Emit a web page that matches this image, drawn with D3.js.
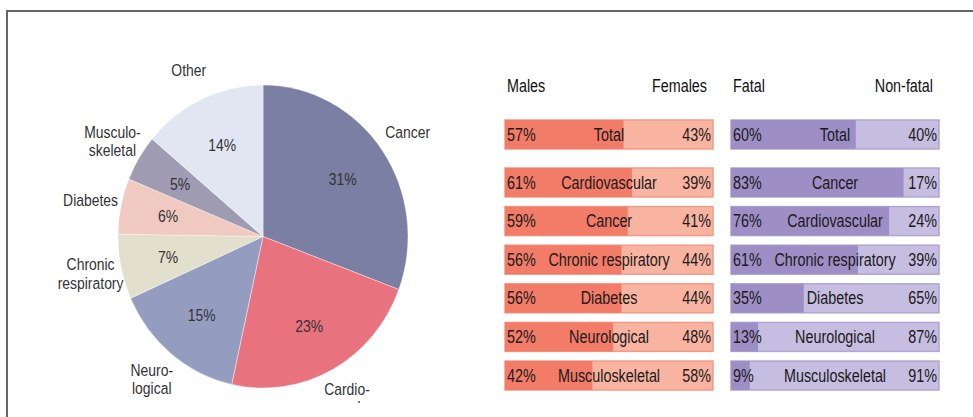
<!DOCTYPE html>
<html>
<head>
<meta charset="utf-8">
<script src="https://cdn.jsdelivr.net/npm/d3@7"></script>
<style>
  body { margin: 0; background: #fff; }
  svg { display: block; }
  text { font-family: "Liberation Sans", Arial, sans-serif; }
</style>
</head>
<body>
<div id="chart"></div>
<script>
// pie data (clockwise from 12 o'clock)
var pieCats = ["Cancer", "Cardiovascular", "Neurological", "Chronic respiratory", "Diabetes", "Musculoskeletal", "Other"];
var pieLabels = [["Cancer"], ["Cardio-", "vascular"], ["Neuro-", "logical"], ["Chronic", "respiratory"], ["Diabetes"], ["Musculo-", "skeletal"], ["Other"]];
var pieValues = [31, 23, 15, 7, 6, 5, 14];
var pieColors = ["#7a7fa3", "#e8737f", "#949dc0", "#e2dfcc", "#f0c9c0", "#9e9bb3", "#e2e6f3"];

// males / females
var totalMales = 57;
var sexCats = ["Cardiovascular", "Cancer", "Chronic respiratory", "Diabetes", "Neurological", "Musculoskeletal"];
var males = [61, 59, 56, 56, 52, 42];

// fatal / non-fatal
var totalFatal = 60;
var fatalCats = ["Cancer", "Cardiovascular", "Chronic respiratory", "Diabetes", "Neurological", "Musculoskeletal"];
var fatal = [83, 76, 61, 35, 13, 9];

var width = 973, height = 417;
var narrow = 0.82; // fake condensed font

var svg = d3.select("#chart")
            .append("svg")
            .attr("width", width)
            .attr("height", height);

// narrow text helper
function ntext(g, x, y, s, anchor, size, color) {
  return g.append("text")
          .attr("transform", "translate(" + x + "," + y + ") scale(" + narrow + ",1)")
          .attr("dy", "0.35em")
          .attr("text-anchor", anchor)
          .attr("font-size", size)
          .attr("fill", color)
          .text(s);
}

// frame
svg.append("path")
   .attr("d", "M7,417 V11 H973")
   .attr("fill", "none")
   .attr("stroke", "#666")
   .attr("stroke-width", 2);

// ---- PIE ----
var cx = 263, cy = 236.5, r = 145, sy = 1.045;
var pie = d3.pie().sort(null).value(function(d) { return d; });
var arcs = pie(pieValues);
var arc = d3.arc().innerRadius(0).outerRadius(r);

svg.append("defs").append("clipPath")
   .attr("id", "clipBottom")
   .append("rect")
   .attr("x", 0).attr("y", 0).attr("width", width).attr("height", 403);

svg.append("g")
   .attr("transform", "translate(" + cx + "," + cy + ") scale(1," + sy + ")")
   .selectAll("path")
   .data(arcs)
   .enter()
   .append("path")
   .attr("d", arc)
   .attr("fill", function(d, i) { return pieColors[i]; })
   .attr("stroke", "#fff")
   .attr("stroke-width", 0.4);

function polar(a, rad) {
  return [cx + Math.sin(a) * rad, cy - Math.cos(a) * rad * sy];
}

// percentages inside
var pct = svg.append("g");
arcs.forEach(function(d) {
  var p = polar((d.startAngle + d.endAngle) / 2, 97);
  ntext(pct, p[0], p[1], d.data + "%", "middle", 17, "#333");
});

// category labels outside
var lab = svg.append("g").attr("clip-path", "url(#clipBottom)");
arcs.forEach(function(d, i) {
  var p = polar((d.startAngle + d.endAngle) / 2, 176);
  var lines = pieLabels[i];
  var lh = 18.5;
  lines.forEach(function(s, j) {
    ntext(lab, p[0], p[1] + (j - (lines.length - 1) / 2) * lh, s, "middle", 17, "#333");
  });
});

// ---- SPLIT BARS ----
function splitPanel(x0, x1, heads, totalVal, cats, vals, dark, light, edge) {
  var x = d3.scaleLinear().domain([0, 100]).range([x0, x1]);
  var y = d3.scaleBand().domain(cats).range([168, 390]).paddingInner(0.25);
  var bh = y.bandwidth();
  var rows = [{c: "Total", v: totalVal, y: 120}].concat(cats.map(function(c, i) {
    return {c: c, v: vals[i], y: y(c)};
  }));
  var g = svg.append("g");

  ntext(g, x(0) + 2, 86, heads[0], "start", 17.5, "#111");
  ntext(g, x(100) - 6, 86, heads[1], "end", 17.5, "#111");

  rows.forEach(function(d) {
    g.append("rect")
     .attr("x", x(0)).attr("y", d.y)
     .attr("width", x(100) - x(0)).attr("height", bh)
     .attr("fill", light)
     .attr("stroke", edge).attr("stroke-width", 1.5);
    g.append("rect")
     .attr("x", x(0)).attr("y", d.y)
     .attr("width", x(d.v) - x(0)).attr("height", bh)
     .attr("fill", dark);
    var ym = d.y + bh / 2;
    ntext(g, x(0) + 2, ym, d.v + "%", "start", 17.5, "#1a1a1a");
    ntext(g, (x(0) + x(100)) / 2, ym, d.c, "middle", 17.5, "#1a1a1a");
    ntext(g, x(100) - 2, ym, (100 - d.v) + "%", "end", 17.5, "#1a1a1a");
  });
}

splitPanel(505, 713, ["Males", "Females"], totalMales, sexCats, males, "#f27c68", "#f8b4a1", "#f59a86");
splitPanel(731, 939, ["Fatal", "Non-fatal"], totalFatal, fatalCats, fatal, "#9d8fc5", "#c6bee0", "#b0a5d3");
</script>
</body>
</html>
